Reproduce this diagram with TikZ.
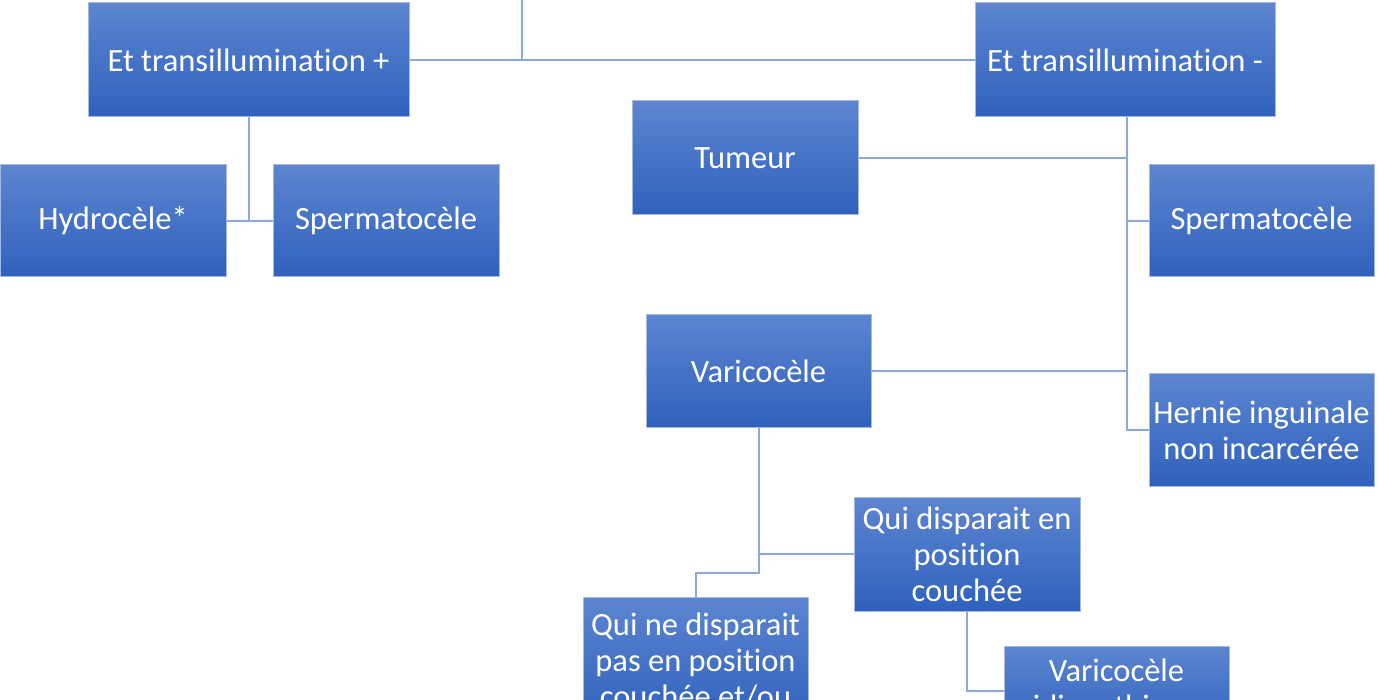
\documentclass[tikz,border=0pt]{standalone}
\usepackage{fontspec}
\setmainfont{Carlito}[Ligatures=NoCommon]
\definecolor{boxtop}{RGB}{93,133,208}
\definecolor{boxbot}{RGB}{47,97,189}
\definecolor{boxedge}{RGB}{165,185,228}
\definecolor{conn}{RGB}{140,168,220}
\tikzset{
  box/.style={draw=boxedge, line width=1pt, top color=boxtop, bottom color=boxbot,
    text=white, align=center, inner sep=2pt,
    font=\fontsize{32.5}{36}\selectfont},
  link/.style={draw=conn, line width=2pt}
}
\begin{document}
\begin{tikzpicture}[x=1pt,y=-1pt]
\useasboundingbox (0,0) rectangle (1400,700);
\clip (0,0) rectangle (1400,700);
% nodes
\node[box, minimum width=321pt, minimum height=114pt] (et1) at (248.5,60) {Et transillumination +};
\node[box, minimum width=300pt, minimum height=114pt] (et2) at (1125,60) {Et transillumination -};
\node[box, minimum width=226pt, minimum height=112pt] (hyd) at (113,221) {Hydrocèle*};
\node[box, minimum width=226pt, minimum height=112pt] (sp1) at (386,221) {Spermatocèle};
\node[box, minimum width=226pt, minimum height=114pt] (tum) at (745,158) {Tumeur};
\node[box, minimum width=225pt, minimum height=112pt] (sp2) at (1261.5,221) {Spermatocèle};
\node[box, minimum width=225pt, minimum height=113pt] (var) at (758.5,371) {Varicocèle};
\node[box, minimum width=225pt, minimum height=113pt] (her) at (1261.5,430) {Hernie inguinale\\non incarcérée};
\node[box, minimum width=226pt, minimum height=114pt] (qd) at (967,554) {Qui disparait en\\position\\couchée};
\node[box, minimum width=225pt, minimum height=126pt, anchor=north] (qnd) at (695.5,597) {Qui ne disparait\\pas en position\\couchée et/ou};
\node[box, minimum width=225pt, minimum height=90pt] (vi) at (1116.5,691) {Varicocèle\\idiopathique};
% connectors
\coordinate (top) at (522,0);
\coordinate (elb) at (759,573);
\draw[link] (et1.east) -- (et2.west);
\draw[link] (top) -- (top |- et1.east);
\draw[link] (et1.south) -- (et1.south |- hyd.east);
\draw[link] (hyd.east) -- (sp1.west);
\draw[link] ([xshift=2pt]et2.south) -- ([xshift=2pt]et2.south |- her.west) -- (her.west);
\draw[link] (tum.east) -- ([xshift=2pt]tum.east -| et2.south);
\draw[link] (sp2.west) -- ([xshift=2pt]sp2.west -| et2.south);
\draw[link] (var.east) -- ([xshift=2pt]var.east -| et2.south);
\draw[link] (var.south) -- (var.south |- qd.west) -- (qd.west);
\draw[link] (var.south |- qd.west) -- (var.south |- elb) -| (qnd.north);
\draw[link] (qd.south) |- (vi.west);
\end{tikzpicture}
\end{document}
